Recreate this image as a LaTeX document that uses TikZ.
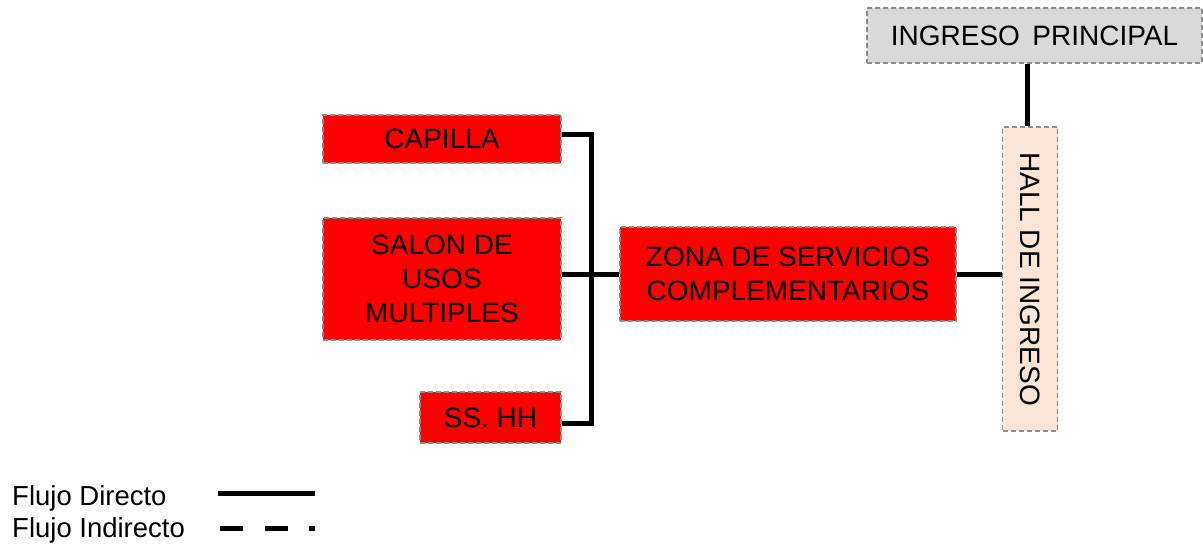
\documentclass[tikz,border=0pt]{standalone}
\usepackage{fontspec}
\setmainfont{Liberation Sans}
\definecolor{boxred}{HTML}{FF0000}
\definecolor{boxgray}{HTML}{D9D9D9}
\definecolor{boxpeach}{HTML}{FBE5D6}
\definecolor{edgegray}{HTML}{8C8C8C}
\begin{document}
\begin{tikzpicture}[x=1pt,y=-1pt,
  zbox/.style={draw=edgegray, line width=1.3pt, dash pattern=on 5pt off 3pt,
    rectangle, inner sep=0pt, align=center, font=\fontsize{28}{34}\selectfont},
  conn/.style={line width=5pt, black, line join=miter},
  legtext/.style={anchor=base west, inner sep=0pt, font=\fontsize{27.5}{32}\selectfont}]
\useasboundingbox (0,0) rectangle (1203,549);
\node[zbox, fill=boxgray, minimum width=335pt, minimum height=55pt] (ing) at (1034.5,35.5) {INGRESO\ \,PRINCIPAL};
\node[zbox, fill=boxpeach, minimum width=55pt, minimum height=304pt] (hall) at (1030,279) {};
\node[rotate=-90, inner sep=0pt, font=\fontsize{28}{34}\selectfont] (halltxt) at (hall.center) {HALL DE INGRESO};
\node[zbox, fill=boxred, minimum width=336pt, minimum height=94pt] (zona) at (788,274) {ZONA DE SERVICIOS\\COMPLEMENTARIOS};
\node[zbox, fill=boxred, minimum width=238pt, minimum height=48pt] (cap) at (442,139) {CAPILLA};
\node[zbox, fill=boxred, minimum width=238pt, minimum height=122pt] (salon) at (442,279) {SALON DE\\USOS\\MULTIPLES};
\node[zbox, fill=boxred, minimum width=141pt, minimum height=51pt] (sshh) at (490.5,417.5) {SS. HH};
\coordinate (bb) at (591,423);
\draw[conn] (ing.south -| 1027,0) -- (hall.north -| 1027,0);
\draw[conn] (zona.east) -- (zona.east -| hall.west);
\draw[conn] ([yshift=5pt]cap.east) -| (bb) -- (bb -| sshh.east);
\draw[conn] (salon.east |- zona.west) -- (zona.west);
% legend
\node[legtext] (l1) at (12,505) {Flujo Directo};
\node[legtext] (l2) at (12,537) {Flujo Indirecto};
\coordinate (s1) at (218,493);
\coordinate (s2) at (315,493);
\coordinate (d1) at (220,528);
\coordinate (d2) at (315,528);
\draw[line width=5pt] (s1) -- (s2);
\draw[line width=5pt, dash pattern=on 23pt off 22pt on 23pt off 21pt on 6pt off 20pt] (d1) -- (d2);
\end{tikzpicture}
\end{document}
